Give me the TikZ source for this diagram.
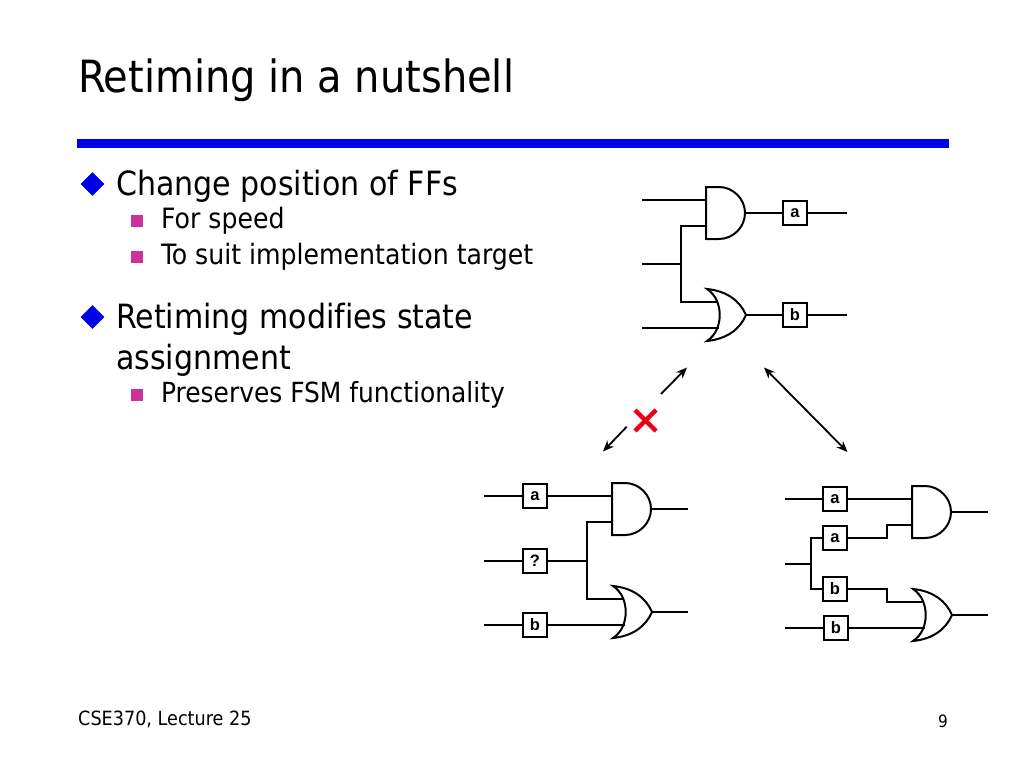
\documentclass[tikz,border=0pt]{standalone}
\usepackage{fontspec}
\setmainfont[Ligatures=NoCommon]{DejaVu Sans Condensed}
\newfontfamily\boxfont[BoldFont={Liberation Sans Bold}]{Liberation Sans}
\usetikzlibrary{positioning,arrows.meta,shapes.geometric}
\definecolor{barblue}{RGB}{0,0,230}
\definecolor{subpink}{RGB}{204,51,153}
\definecolor{crossred}{RGB}{234,0,22}
\tikzset{
  wire/.style={line width=2pt},
  ffbox/.style={draw,line width=2pt,minimum size=24pt,inner sep=0pt,font=\boxfont\fontsize{16.5}{16.5}\selectfont\bfseries},
  titletext/.style={anchor=base west,inner sep=0pt,font=\fontsize{44.4}{44.4}\selectfont},
  itemtext/.style={anchor=base west,inner sep=0pt,font=\fontsize{33.4}{33.4}\selectfont},
  subtext/.style={anchor=base west,inner sep=0pt,font=\fontsize{28}{28}\selectfont},
  foottext/.style={anchor=base west,inner sep=0pt,font=\fontsize{19.6}{19.6}\selectfont},
  itembullet/.style={diamond,fill=barblue,inner sep=0pt,minimum width=24pt,minimum height=24pt},
  subbullet/.style={fill=subpink,inner sep=0pt,minimum size=12pt},
  linkarrow/.style={line width=1.8pt,-{Stealth[length=11pt,width=9pt]}},
  andgate/.pic={
    \draw[wire,fill=white] (13,-26) .. controls (27,-26) and (39,-14.2) .. (39,0) .. controls (39,14.2) and (27,26) .. (13,26) -- (0,26) -- (0,-26) -- cycle;
    \coordinate (-in1) at (0,-13);
    \coordinate (-in2) at (0,13);
    \coordinate (-out) at (39,0);
  },
  orgate/.pic={
    \draw[wire,fill=white] (0,-26) .. controls (20,-24) and (33,-14) .. (39,0) .. controls (33,14) and (20,24) .. (0,26) .. controls (9,20) and (12.7,10) .. (12.7,0) .. controls (12.7,-10) and (9,-20) .. (0,-26) -- cycle;
    \coordinate (-in1) at (11,-13);
    \coordinate (-in2) at (12,13);
    \coordinate (-out) at (39,0);
  }
}
\begin{document}
\begin{tikzpicture}[x=1pt,y=-1pt]
\useasboundingbox (0,0) rectangle (1024,768);
% slide text
\node[titletext] (title) at (78,92) {Retiming in a nutshell};
\node[fill=barblue,minimum width=872pt,minimum height=9pt,inner sep=0pt] (bar) at (513,143.5) {};
\node[itembullet] (bulA) at (92.5,184) {};
\node[itemtext] (itemA) at (116,195) {Change position of FFs};
\node[subbullet] (bulB) at (136.5,221) {};
\node[subtext] (subB) at (161,228.5) {For speed};
\node[subbullet] (bulC) at (136.5,257) {};
\node[subtext] (subC) at (161,264.5) {To suit implementation target};
\node[itembullet] (bulD) at (92.5,317) {};
\node[itemtext] (itemD) at (116,328) {Retiming modifies state};
\node[itemtext] (itemE) at (116,369) {assignment};
\node[subbullet] (bulF) at (136.5,395) {};
\node[subtext,font=\fontsize{27.7}{27.7}\selectfont] (subF) at (161,402.5) {Preserves FSM functionality};
\node[foottext] (foot) at (78,725) {CSE370, Lecture 25};
\node[foottext,font=\fontsize{17}{17}\selectfont] (page) at (938,727) {9};
% top circuit
\pic (topand) at (706,213) {andgate};
\pic (topor) at (707,315) {orgate};
\node[ffbox] (topa) at (795,213) {a};
\node[ffbox] (topb) at (795,315) {b};
\coordinate (topin1) at (642,200);
\coordinate (topin2) at (642,264);
\coordinate (topin3) at (642,328);
\coordinate (toptap) at (681,264);
\coordinate (topout1) at (847,213);
\coordinate (topout2) at (847,315);
\draw[wire] (topin1) -- (topin1 -| topand-in1);
\draw[wire] (topin2) -- (toptap);
\draw[wire] (topin3) -- (topin3 -| topor-in2);
\draw[wire] (topand-in2) -| (toptap) |- (topor-in1);
\draw[wire] (topand-out) -- (topa);
\draw[wire] (topor-out) -- (topb);
\draw[wire] (topa) -- (topout1);
\draw[wire] (topb) -- (topout2);
% left circuit
\pic (leftand) at (612,509) {andgate};
\pic (leftor) at (613,612) {orgate};
\node[ffbox] (lefta) at (535,496) {a};
\node[ffbox] (leftq) at (535,561) {?};
\node[ffbox] (leftb) at (535,625) {b};
\coordinate (leftin1) at (484,496);
\coordinate (leftin2) at (484,561);
\coordinate (leftin3) at (484,625);
\coordinate (lefttap) at (587,561);
\coordinate (leftout1) at (688,509);
\coordinate (leftout2) at (688,612);
\draw[wire] (leftin1) -- (lefta);
\draw[wire] (leftin2) -- (leftq);
\draw[wire] (leftin3) -- (leftb);
\draw[wire] (lefta) -- (lefta -| leftand-in1);
\draw[wire] (leftq) -- (lefttap);
\draw[wire] (leftb) -- (leftb -| leftor-in2);
\draw[wire] (leftand-in2) -| (lefttap) |- (leftor-in1);
\draw[wire] (leftand-out) -- (leftout1);
\draw[wire] (leftor-out) -- (leftout2);
% right circuit
\pic (rightand) at (912,512) {andgate};
\pic (rightor) at (913,615) {orgate};
\node[ffbox] (righta) at (835,499) {a};
\node[ffbox] (rightc) at (835,538) {a};
\node[ffbox] (rightb) at (835,589) {b};
\node[ffbox] (rightd) at (836,628) {b};
\coordinate (rightin1) at (785,499);
\coordinate (rightin2) at (785,564);
\coordinate (rightin3) at (785,628);
\coordinate (righttap) at (811,564);
\coordinate (rightjog1) at (887,525);
\coordinate (rightjog2) at (887,602);
\coordinate (rightout1) at (988,512);
\coordinate (rightout2) at (988,615);
\draw[wire] (rightin1) -- (righta);
\draw[wire] (rightin2) -- (righttap);
\draw[wire] (rightin3) -- (rightd);
\draw[wire] (rightc) -| (righttap) |- (rightb);
\draw[wire] (righta) -- (righta -| rightand-in1);
\draw[wire] (rightc) -| (rightjog1) -- (rightand-in2);
\draw[wire] (rightb) -| (rightjog2) -- (rightor-in1);
\draw[wire] (rightd) -- (rightd -| rightor-in2);
\draw[wire] (rightand-out) -- (rightout1);
\draw[wire] (rightor-out) -- (rightout2);
% arrows between circuits
\coordinate (arrA) at (661,394);
\coordinate (arrB) at (687,367.5);
\coordinate (arrC) at (626.7,426.7);
\coordinate (arrD) at (603,451.5);
\coordinate (arrE) at (764,367.5);
\coordinate (arrF) at (847.5,452);
\draw[linkarrow] (arrA) -- (arrB);
\draw[linkarrow] (arrC) -- (arrD);
\draw[linkarrow,{Stealth[length=11pt,width=9pt]}-{Stealth[length=11pt,width=9pt]}] (arrE) -- (arrF);
% red cross
\coordinate (crossA) at (635,410);
\coordinate (crossB) at (656,431);
\coordinate (crossC) at (656,410);
\coordinate (crossD) at (635,431);
\draw[crossred,line width=4.5pt] (crossA) -- (crossB);
\draw[crossred,line width=4.5pt] (crossC) -- (crossD);
\end{tikzpicture}
\end{document}
